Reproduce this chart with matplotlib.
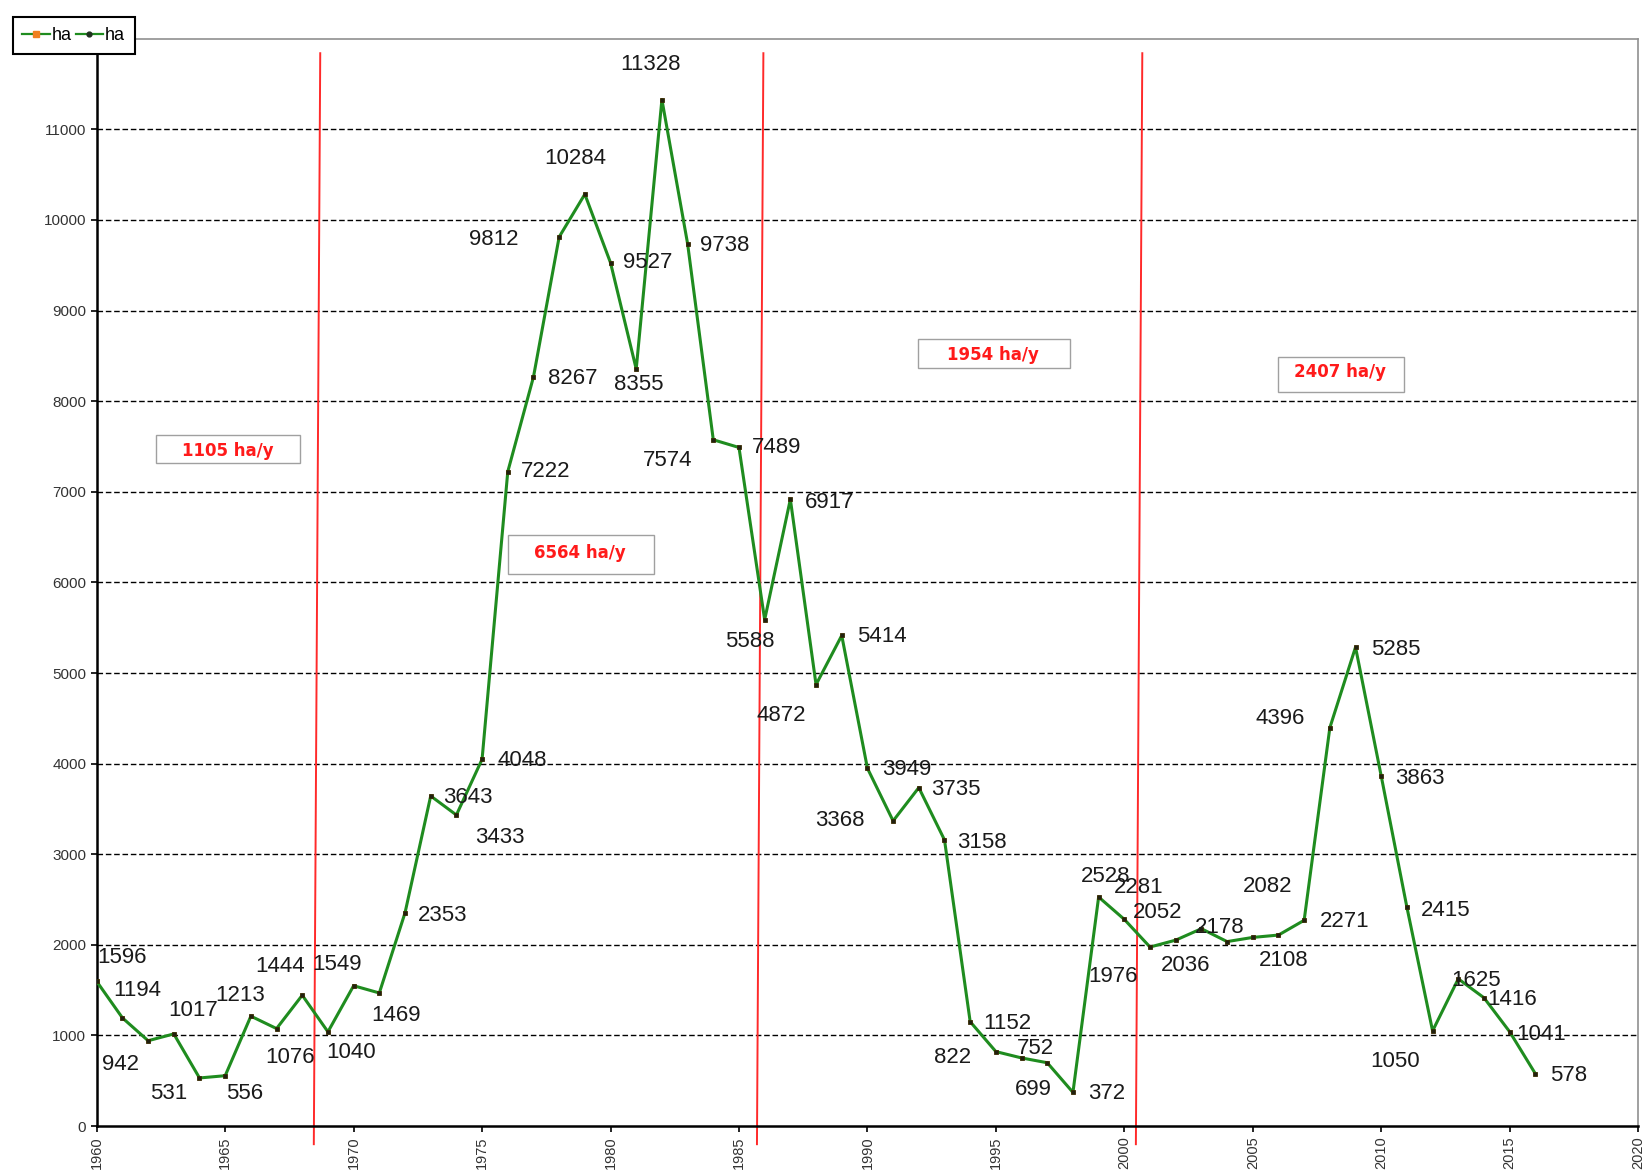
import matplotlib
matplotlib.use('Agg')
import matplotlib.pyplot as plt
from matplotlib.lines import Line2D
from matplotlib.patches import Rectangle

plt.rcParams['font.family'] = ['Liberation Sans', 'DejaVu Sans']

# ---- data ----
years = list(range(1960, 2017))
ha = [1596, 1194, 942, 1017, 531, 556, 1213, 1076, 1444, 1040,
      1549, 1469, 2353, 3643, 3433, 4048, 7222, 8267, 9812, 10284,
      9527, 8355, 11328, 9738, 7574, 7489, 5588, 6917, 4872, 5414,
      3949, 3368, 3735, 3158, 1152, 822, 752, 699, 372, 2528,
      2281, 1976, 2052, 2178, 2036, 2082, 2108, 2271, 4396, 5285,
      3863, 2415, 1050, 1625, 1416, 1041, 578]

# period breaks (red lines) and mean rates per period
breaks = [1968.65, 1985.9, 2000.65]
rate_labels = ['1105 ha/y', '6564 ha/y', '1954 ha/y', '2407 ha/y']

# ---- label offsets (points) ----
lbl_off = [(18, 17), (11, 20), (-20, -17), (14, 17), (-22, -11), (14, -13), (-8, 15), (10, -21),
           (-16, 21), (17, -15), (-12, 15), (12, -16), (27, -2), (27, -1), (31, -16), (29, -1),
           (27, 0), (28, -1), (-47, -2), (-7, 26), (27, 0), (2, -11), (-8, 25), (27, -1),
           (-33, -15), (27, 0), (-11, -16), (28, -2), (-25, -22), (29, -1), (28, -1), (-38, 0),
           (27, -1), (27, -2), (27, -1), (-31, -4), (10, 7), (-10, -19), (24, -1), (5, 15),
           (10, 23), (-27, -21), (-13, 20), (13, 1), (-30, -17), (11, 37), (4, -18), (29, -1),
           (-36, 7), (29, -2), (28, -2), (28, -2), (-27, -22), (13, -1), (20, -1), (23, -2),
           (24, -1)]

# rate boxes: (x0, x1, y0, y1) in data units, text centre
rate_boxes = [(1962.3, 1967.9, 7320, 7630), (1976.0, 1981.7, 6090, 6520),
              (1991.95, 1997.9, 8370, 8690), (2006.0, 2010.9, 8105, 8490)]
rate_text = [(1965.1, 7445), (1978.8, 6322), (1994.9, 8513), (2008.4, 8326)]

fig = plt.figure(figsize=(16.48, 11.73), dpi=100)
ax = fig.add_axes([0.0587, 0.040, 0.9353, 0.927])

GREEN = '#1f8c1f'

for v in range(1000, 12000, 1000):
    ax.axhline(v, color='black', lw=1.0, ls=(0, (4, 2)), zorder=1)

for b in breaks:
    ax.plot([b + 0.05, b - 0.2], [11840, -200], color='#ff2a2a', lw=1.4,
            zorder=2, clip_on=False)

ax.plot(years, ha, color=GREEN, lw=2.2, marker='s', ms=3.5,
        mfc='#202010', mec='#3a2a00', mew=0.6, zorder=3)

for x, y, (dx, dy) in zip(years, ha, lbl_off):
    ax.annotate(str(y), (x, y), xytext=(dx, dy), textcoords='offset points',
                ha='center', va='center', fontsize=16, color='#1a1a1a', zorder=4)

for (x0, x1, y0, y1), (tx, ty), t in zip(rate_boxes, rate_text, rate_labels):
    ax.add_patch(Rectangle((x0, y0), x1 - x0, y1 - y0, facecolor='white',
                           edgecolor='#a0a0a0', lw=1.0, zorder=3))
    ax.text(tx, ty, t, ha='center', va='center', color='#ff1a1a',
            fontsize=12, fontweight='bold', family=['DejaVu Sans'], zorder=4)

ax.set_xlim(1960, 2020)
ax.set_ylim(0, 12000)
ax.set_xticks(range(1960, 2021, 5))
ax.set_xticklabels([str(y) for y in range(1960, 2021, 5)], rotation=90,
                   fontsize=10.5, color='#333333')
ax.set_yticks(range(0, 12000, 1000))
ax.set_yticklabels([str(v) for v in range(0, 12000, 1000)], fontsize=11, color='#333333')
ax.tick_params(direction='out', length=4, width=1.2, color='black')

for s in ['left', 'bottom']:
    ax.spines[s].set_color('black')
    ax.spines[s].set_linewidth(1.8)
for s in ['top', 'right']:
    ax.spines[s].set_color('#909090')
    ax.spines[s].set_linewidth(1.2)

handles = [Line2D([], [], color=GREEN, lw=1.6, marker='s', ms=4.5, mfc='#f08020', mec='#f08020'),
           Line2D([], [], color=GREEN, lw=1.6, marker='o', ms=3.5, mfc='#203020', mec='#203020')]
leg = fig.legend(handles, ['ha', 'ha'], ncol=2, loc='upper left',
                 bbox_to_anchor=(0.0076, 0.9855), fontsize=13, frameon=True,
                 fancybox=False, edgecolor='black', framealpha=1,
                 handlelength=1.5, handletextpad=0.1, columnspacing=0.25,
                 borderpad=0.55, borderaxespad=0)
leg.get_frame().set_linewidth(1.5)

fig.savefig('out.png', dpi=100, facecolor='white')
